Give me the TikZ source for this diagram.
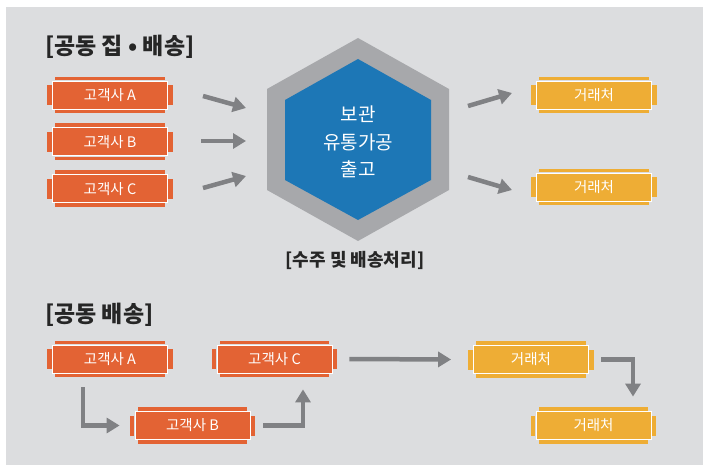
\documentclass[tikz,border=0pt]{standalone}
\usepackage{fontspec}
\setmainfont{Noto Sans CJK KR}
\usetikzlibrary{positioning,arrows.meta}
\definecolor{fondo}{RGB}{220,221,223}
\definecolor{naranja}{RGB}{227,99,52}
\definecolor{amarillo}{RGB}{238,173,53}
\definecolor{azul}{RGB}{29,119,182}
\definecolor{hexgris}{RGB}{167,168,171}
\definecolor{gris}{RGB}{128,129,132}
\tikzset{
	caja/.style={rectangle, fill=#1, draw=white, line width=0.8pt, text=white,
		font=\fontsize{14.5}{17}\selectfont, minimum width=115pt, minimum height=28pt, inner sep=0pt,
		append after command={\pgfextra{
				\fill[#1] ([xshift=3pt,yshift=0.4pt]\tikzlastnode.north west) rectangle ([xshift=-3pt,yshift=4pt]\tikzlastnode.north east);
				\fill[#1] ([xshift=3pt,yshift=-0.4pt]\tikzlastnode.south west) rectangle ([xshift=-3pt,yshift=-4pt]\tikzlastnode.south east);
				\fill[#1] ([xshift=-0.4pt,yshift=10pt]\tikzlastnode.west) rectangle ([xshift=-5pt,yshift=-10pt]\tikzlastnode.west);
				\fill[#1] ([xshift=0.4pt,yshift=10pt]\tikzlastnode.east) rectangle ([xshift=5pt,yshift=-10pt]\tikzlastnode.east);
			}}},
	cliente/.style={caja=naranja},
	destino/.style={caja=amarillo},
	titulo/.style={font=\bfseries\fontsize{23}{27}\selectfont, text=black!85, anchor=west, inner sep=0pt},
	flecha/.style={draw=gris, line width=4.5pt, -{Triangle[length=13pt,width=15pt]}}
}
\begin{document}
\begin{tikzpicture}[x=1pt, y=-1pt, node distance=18pt]
	\useasboundingbox (0,0) rectangle (703,465);
	\fill[fondo] (6,7) rectangle (703,465);
	
	\node[titulo] (t1) at (45,47) {[공동 집 • 배송]};
	
	\node[cliente] (cA) at (110,95) {고객사 A};
	\node[cliente, below=of cA] (cB) {고객사 B};
	\node[cliente, below=of cB] (cC) {고객사 C};
	
	\fill[hexgris] (358,38) -- (449,89) -- (449,190) -- (358,241) -- (267,190) -- (267,89) -- cycle;
	\fill[azul] (358,59) -- (431,100) -- (431,180) -- (358,220) -- (285,180) -- (285,100) -- cycle;
	\node[text=white, align=center, font=\fontsize{19}{27.5}\selectfont] (centro) at (358,142) {보관\\유통가공\\출고};
	\node[font=\bfseries\fontsize{18}{21}\selectfont, text=black!85] (proceso) at (355,260) {[수주 및 배송처리]};
	
	\node[destino] (d1) at (594,95) {거래처};
	\node[destino] (d2) at (594,187) {거래처};
	
	\coordinate (a1) at (203,96);  \coordinate (b1) at (246,108);
	\coordinate (a2) at (201,141); \coordinate (b2) at (246,141);
	\coordinate (a3) at (203,188); \coordinate (b3) at (246,176);
	\coordinate (a4) at (468,106); \coordinate (b4) at (512,93);
	\coordinate (a5) at (468,177); \coordinate (b5) at (512,190);
	\draw[flecha] (a1) -- (b1);
	\draw[flecha] (a2) -- (b2);
	\draw[flecha] (a3) -- (b3);
	\draw[flecha] (a4) -- (b4);
	\draw[flecha] (a5) -- (b5);
	
	\node[titulo] (t2) at (45,315) {[공동 배송]};
	
	\node[cliente] (sA) at (110,359) {고객사 A};
	\node[cliente] (sB) at (192.5,425.5) {고객사 B};
	\node[cliente] (sC) at (274.5,359) {고객사 C};
	\node[destino] (e1) at (531,359.5) {거래처};
	\node[destino] (e2) at (593.5,425.5) {거래처};
	
	\draw[flecha] ([xshift=-27pt,yshift=-14pt]sA.south) |- ([xshift=-15pt]sB.west);
	\draw[flecha] ([xshift=13pt]sB.east) -| ([xshift=28.5pt,yshift=-16pt]sC.south);
	\draw[flecha] ([xshift=17pt]sC.east) -- ([xshift=-22pt]e1.west);
	\draw[flecha] ([xshift=12.5pt]e1.east) -| ([xshift=39.5pt,yshift=14.5pt]e2.north);
\end{tikzpicture}
\end{document}
